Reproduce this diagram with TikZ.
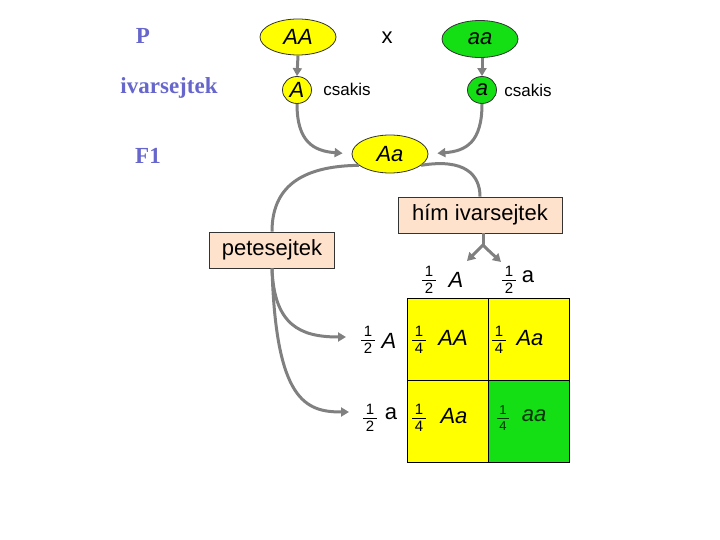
\documentclass[tikz,border=0pt]{standalone}
\usepackage{fontspec}
\setmainfont{Liberation Sans}
\newfontfamily\lblfont{Liberation Serif}
\usetikzlibrary{shapes.geometric,arrows.meta}
\definecolor{lblblue}{RGB}{102,102,204}
\definecolor{cyel}{RGB}{255,255,0}
\definecolor{cgrn}{RGB}{20,222,20}
\definecolor{peach}{RGB}{255,226,204}
\definecolor{arrgray}{RGB}{128,128,128}
\definecolor{dkgrn}{RGB}{0,50,0}
\newcommand\fs[1]{\fontsize{#1}{#1}\selectfont}
\newcommand\myfr[3]{\fs{#1}\vbox{\hbox to 0.9em{\hfil#2\hfil}\kern3pt\hrule height 0.7pt\kern3pt\hbox to 0.9em{\hfil#3\hfil}}}
\tikzset{
  lbl/.style={font=\lblfont\bfseries\fs{23}, text=lblblue, inner sep=0},
  txt/.style={font=\fs{22}, inner sep=0},
  small/.style={font=\fs{17}, inner sep=0},
  oval/.style={ellipse, draw=black!80, line width=0.8pt, inner sep=0, font=\fs{22}\itshape},
  yel/.style={fill=cyel},
  grn/.style={fill=cgrn},
  labbox/.style={rectangle, draw=black!80, line width=0.8pt, fill=peach, font=\fs{22}, inner sep=0},
  cell/.style={rectangle, draw=black, line width=0.8pt, minimum width=81pt, minimum height=82pt, inner sep=0},
  frac/.style={inner sep=0},
  arr/.style={draw=arrgray, line width=3pt, -{Triangle[length=8pt,width=9pt]}},
  plain/.style={draw=arrgray, line width=3pt},
}
\begin{document}
\begin{tikzpicture}[x=1pt,y=-1pt]
\useasboundingbox (0,0) rectangle (720,540);
% generation labels
\node[lbl] (P) at (143,36) {P};
\node[lbl] (ivar) at (169,88) {ivarsejtek};
\node[lbl] (F1) at (148,156) {F1};
% parents
\node[oval, yel, minimum width=76pt, minimum height=36pt] (AA) at (298,37) {AA};
\node[txt] (x) at (387,38) {x};
\node[oval, grn, minimum width=76pt, minimum height=37pt] (aa) at (480,39) {aa};
% gametes
\node[oval, yel, minimum width=29pt, minimum height=27pt] (A) at (297,90) {A};
\node[small] (cs1) at (347,89) {csakis};
\node[oval, grn, minimum width=29pt, minimum height=27pt] (a) at (482,90) {a};
\node[small] (cs2) at (528,90) {csakis};
% F1
\node[oval, yel, minimum width=76pt, minimum height=38pt] (Aa) at (390,154) {Aa};
% boxes
\node[labbox, minimum width=164pt, minimum height=36pt] (him) at (480,215) {hím ivarsejtek};
\node[labbox, minimum width=125pt, minimum height=36pt] (pete) at (272,250) {petesejtek};
% arrows parents -> gametes
\draw[arr] (AA.south) -- (A.north);
\draw[arr] (aa.south -| a.north) -- (a.north);
% gametes -> F1
\draw[arr, shorten >=9pt] (A.south) .. controls +(0,38) and +(-38,-3) .. (Aa.west);
\draw[arr, shorten >=9pt] (a.south) .. controls +(0,38) and +(38,-3) .. (Aa.east);
% F1 -> boxes
\draw[plain] (Aa.200) .. controls (300,166) and (272,188) .. (pete.north);
\draw[plain] (Aa.340) .. controls (465,158) and (480,175) .. (him.north);
% Punnett square
\node[cell, yel] (c11) at (447.5,339) {};
\node[cell, yel] (c12) at (528.5,339) {};
\node[cell, yel] (c21) at (447.5,421) {};
\node[cell, grn] (c22) at (528.5,421) {};
% header (male gametes)
\node[frac] (hf1) at (429,280) {\myfr{15}{1}{2}};
\node[txt, font=\fs{22}\itshape] (hA) at (456,280) {A};
\node[frac] (hf2) at (509,280) {\myfr{15}{1}{2}};
\node[txt] (ha) at (528,277) {a};
% fork from him
\coordinate (fork) at (483,245);
\coordinate (tL) at (467,261);
\coordinate (tR) at (501,262);
\draw[plain] (him.south -| fork) -- (fork);
\draw[arr] (fork) .. controls (478,250) .. (tL);
\draw[arr] (fork) .. controls (488,250) .. (tR);
% row labels (female gametes)
\node[frac] (rf1) at (368,340) {\myfr{15}{1}{2}};
\node[txt, font=\fs{22}\itshape] (rA) at (389,341) {A};
\node[frac] (rf2) at (370,418) {\myfr{15}{1}{2}};
\node[txt] (ra) at (391,414) {a};
% arrows from petesejtek
\coordinate (t1) at (346,337);
\coordinate (t2) at (349,412);
\draw[arr] (pete.south) .. controls (274,325) and (300,337) .. (t1);
\draw[arr] (pete.south) .. controls (276,400) and (305,412) .. (t2);
% cell contents
\node[frac] (f11) at (419,340) {\myfr{15}{1}{4}};
\node[txt, font=\fs{22}\itshape] (g11) at (453,338) {AA};
\node[frac] (f12) at (499,340) {\myfr{15}{1}{4}};
\node[txt, font=\fs{22}\itshape] (g12) at (530,338) {Aa};
\node[frac] (f21) at (419,418) {\myfr{15}{1}{4}};
\node[txt, font=\fs{22}\itshape] (g21) at (454,416) {Aa};
\node[frac, text=dkgrn] (f22) at (503,418) {\myfr{13}{1}{4}};
\node[txt, font=\fs{22}\itshape, text=dkgrn] (g22) at (534,416) {aa};
\end{tikzpicture}
\end{document}
